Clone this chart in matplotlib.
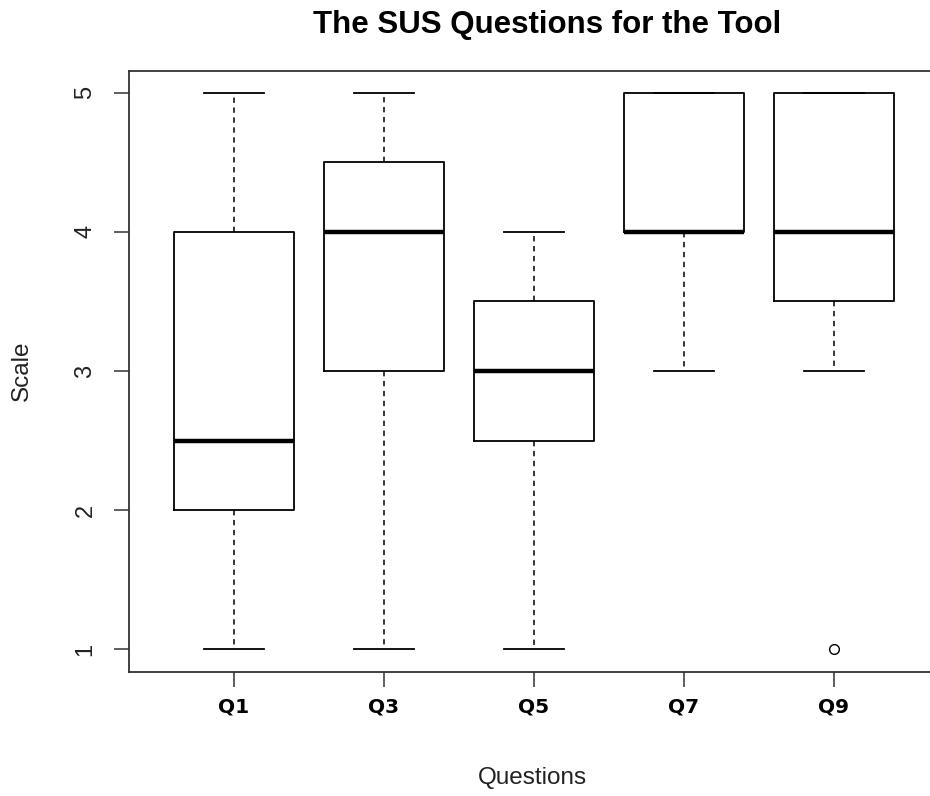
import matplotlib
matplotlib.use("Agg")
import matplotlib.pyplot as plt

# Five-number summaries for each SUS question
questions = ["Q1", "Q3", "Q5", "Q7", "Q9"]
whisker_low = [1, 1, 1, 3, 3]
box_low = [2, 3, 2.5, 4, 3.5]
medians = [2.5, 4, 3, 4, 4]
box_high = [4, 4.5, 3.5, 5, 5]
whisker_high = [5, 5, 4, 5, 5]
outliers = [[], [], [], [], [1]]

stats = []
for i, q in enumerate(questions):
    stats.append(dict(label=q, whislo=whisker_low[i], q1=box_low[i], med=medians[i],
                      q3=box_high[i], whishi=whisker_high[i], fliers=outliers[i]))

W, H = 930, 796
fig = plt.figure(figsize=(W / 100, H / 100), dpi=100)
left, right, top, bottom = 128.5, 939, 70.5, 671.5
ax = fig.add_axes([left / W, 1 - bottom / H, (right - left) / W, (bottom - top) / H])

ax.bxp(stats, positions=range(1, 6), widths=0.8, showfliers=True, patch_artist=False,
       boxprops=dict(color="black", linewidth=1.3),
       medianprops=dict(color="black", linewidth=3.2, solid_capstyle="butt"),
       whiskerprops=dict(color="black", linewidth=1.1, linestyle=(0, (3.5, 3))),
       capprops=dict(color="black", linewidth=1.3),
       capwidths=0.4,
       flierprops=dict(marker="o", markersize=7, markerfacecolor="white",
                       markeredgecolor="black", markeredgewidth=1.0))

ax.set_xlim(0.3, 5.7)
ax.set_ylim(0.84, 5.16)
ax.set_yticks([1, 2, 3, 4, 5])
ax.set_yticklabels(["1", "2", "3", "4", "5"], rotation=90, va="center",
                   fontsize=17, family="Liberation Sans", color="#222222")
ax.set_xticks(range(1, 6))
ax.set_xticklabels(questions, fontsize=14.5, fontweight="bold", family="DejaVu Sans")
ax.tick_params(axis="both", direction="out", length=11, width=1.1, color="#333333")
ax.tick_params(axis="y", pad=12)
ax.tick_params(axis="x", pad=8)
for s in ax.spines.values():
    s.set_linewidth(1.3)
    s.set_color("#333333")

ax.set_xlabel("Questions", fontsize=17.5, family="Liberation Sans", color="#222222", va="center")
ax.set_ylabel("Scale", fontsize=17.5, family="Liberation Sans", color="#222222", va="center")
ax.xaxis.set_label_coords((532 - left) / (right - left), -(778 - bottom) / (bottom - top))
ax.yaxis.set_label_coords((22 - left) / (right - left), 0.5)

fig.text(547 / W, 1 - 25 / H, "The SUS Questions for the Tool",
         ha="center", va="center", fontsize=22.5, fontweight="bold", family="Liberation Sans")

fig.savefig("out.png", dpi=100)
